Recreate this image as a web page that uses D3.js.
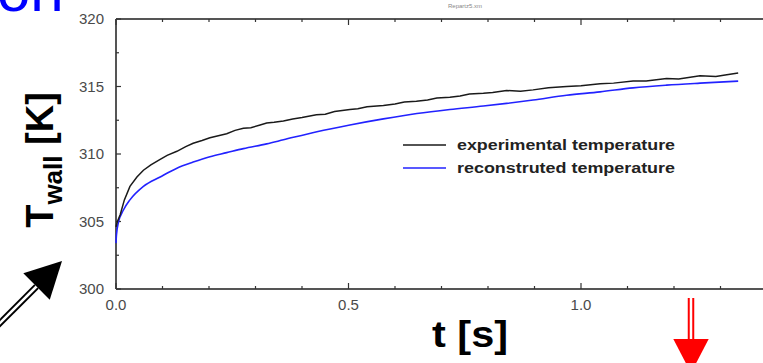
<!DOCTYPE html>
<html>
<head>
<meta charset="utf-8">
<script src="https://cdn.jsdelivr.net/npm/d3@7"></script>
<style>
  html, body { margin: 0; padding: 0; background: #fff; overflow: hidden; }
  svg { display: block; font-family: Arial, "Liberation Sans", sans-serif; }
</style>
</head>
<body>
<div id="chart"></div>
<script>
// measured values (time in s, wall temperature in K)
const expTime = [0, 0.003, 0.009, 0.018, 0.03, 0.045, 0.059, 0.075, 0.095, 0.11, 0.131, 0.15, 0.166, 0.185, 0.202, 0.22, 0.238, 0.256, 0.274, 0.29, 0.31, 0.324, 0.34, 0.36, 0.38, 0.40, 0.431, 0.45, 0.47, 0.503, 0.52, 0.54, 0.575, 0.60, 0.62, 0.646, 0.67, 0.69, 0.718, 0.74, 0.76, 0.79, 0.81, 0.84, 0.87, 0.897, 0.93, 0.969, 1.0, 1.041, 1.07, 1.112, 1.14, 1.184, 1.21, 1.256, 1.29, 1.31, 1.338];
const expTemp = [304.6, 305.0, 305.5, 306.6, 307.6, 308.3, 308.8, 309.2, 309.6, 309.9, 310.2, 310.55, 310.8, 311.0, 311.2, 311.35, 311.5, 311.75, 311.9, 311.95, 312.15, 312.3, 312.35, 312.45, 312.6, 312.7, 312.9, 312.95, 313.15, 313.3, 313.35, 313.5, 313.6, 313.7, 313.85, 313.9, 314.0, 314.15, 314.2, 314.3, 314.45, 314.5, 314.55, 314.7, 314.65, 314.75, 314.9, 315.0, 315.05, 315.2, 315.25, 315.4, 315.4, 315.6, 315.55, 315.8, 315.75, 315.85, 316.0];

const recTime = [0, 0.001, 0.005, 0.016, 0.03, 0.059, 0.095, 0.131, 0.166, 0.202, 0.238, 0.274, 0.324, 0.36, 0.432, 0.503, 0.575, 0.647, 0.718, 0.79, 0.84, 0.897, 0.969, 1.041, 1.112, 1.184, 1.256, 1.338];
const recTemp = [303.4, 304.0, 304.9, 305.85, 306.6, 307.6, 308.3, 308.95, 309.4, 309.8, 310.1, 310.4, 310.75, 311.05, 311.65, 312.15, 312.6, 313.0, 313.3, 313.55, 313.75, 314.0, 314.35, 314.6, 314.9, 315.1, 315.25, 315.4];

const seriesNames = ["experimental temperature", "reconstruted temperature"];
const seriesColors = ["#1a1a1a", "#2222ff"];

const xTicks = [0, 0.5, 1.0];
const xMinor = d3.range(0, 14).map(i => i / 10);
const yTicks = [300, 305, 310, 315, 320];
const yMinor = [302.5, 307.5, 312.5, 317.5];

const W = 763, H = 363;
const margin = { top: 19, left: 116, bottom: 74 };

const svg = d3.select("#chart").append("svg")
    .attr("width", W)
    .attr("height", H);

const x = d3.scaleLinear().domain([0, 1.4]).range([margin.left, margin.left + 651]);
const y = d3.scaleLinear().domain([300, 320]).range([H - margin.bottom, margin.top]);

const axisColor = "#555";

// frame lines
svg.append("line")
    .attr("x1", x(0)).attr("x2", W)
    .attr("y1", y(300)).attr("y2", y(300))
    .attr("stroke", axisColor).attr("stroke-width", 2);
svg.append("line")
    .attr("x1", x(0)).attr("x2", W)
    .attr("y1", y(320)).attr("y2", y(320))
    .attr("stroke", axisColor).attr("stroke-width", 2);
svg.append("line")
    .attr("x1", x(0)).attr("x2", x(0))
    .attr("y1", y(320)).attr("y2", y(300))
    .attr("stroke", axisColor).attr("stroke-width", 2);

// inward ticks, bottom and top
const tickG = svg.append("g").attr("stroke", "#333").attr("stroke-width", 1.2);
xMinor.forEach(t => {
    const len = xTicks.some(v => Math.abs(v - t) < 1e-6) ? 6 : 3;
    tickG.append("line").attr("x1", x(t)).attr("x2", x(t))
        .attr("y1", y(300)).attr("y2", y(300) - len);
    tickG.append("line").attr("x1", x(t)).attr("x2", x(t))
        .attr("y1", y(320)).attr("y2", y(320) + len);
});
yTicks.concat(yMinor).forEach(v => {
    const len = yTicks.includes(v) ? 5 : 3;
    tickG.append("line").attr("x1", x(0)).attr("x2", x(0) + len)
        .attr("y1", y(v)).attr("y2", y(v));
});

// tick labels
svg.append("g").selectAll("text")
    .data(yTicks)
    .join("text")
    .attr("x", x(0) - 12)
    .attr("y", d => y(d))
    .attr("dy", "0.36em")
    .attr("text-anchor", "end")
    .attr("fill", "#4a4a4a")
    .style("font-size", "15px")
    .text(d => d);

svg.append("g").selectAll("text")
    .data(xTicks)
    .join("text")
    .attr("x", d => x(d))
    .attr("y", y(300) + 21)
    .attr("text-anchor", "middle")
    .attr("fill", "#4a4a4a")
    .style("font-size", "15px")
    .text(d => d3.format(".1f")(d));

// curves
const line = d3.line()
    .x(d => x(d[0]))
    .y(d => y(d[1]));

svg.append("path")
    .datum(recTime.map((t, i) => [t, recTemp[i]]))
    .attr("fill", "none")
    .attr("stroke", seriesColors[1])
    .attr("stroke-width", 1.6)
    .attr("d", line.curve(d3.curveMonotoneX));

svg.append("path")
    .datum(expTime.map((t, i) => [t, expTemp[i]]))
    .attr("fill", "none")
    .attr("stroke", seriesColors[0])
    .attr("stroke-width", 1.5)
    .attr("d", line.curve(d3.curveLinear));

// legend
const legend = svg.append("g");
seriesNames.forEach((name, i) => {
    const ly = 145 + i * 23;
    legend.append("line")
        .attr("x1", 403).attr("x2", 446)
        .attr("y1", ly).attr("y2", ly)
        .attr("stroke", seriesColors[i]).attr("stroke-width", 1.5);
    legend.append("text")
        .attr("x", 457).attr("y", ly + 5)
        .attr("fill", "#222")
        .style("font-size", "14px")
        .style("font-weight", "bold")
        .attr("textLength", 218)
        .attr("lengthAdjust", "spacingAndGlyphs")
        .text(name);
});

// small file name on top
svg.append("text")
    .attr("x", 465).attr("y", 8)
    .attr("text-anchor", "middle")
    .attr("fill", "#888")
    .style("font-size", "6px")
    .text("Repartz5.xm");

// axis titles
svg.append("text")
    .attr("x", 432).attr("y", 347)
    .attr("fill", "#000")
    .style("font-size", "37px")
    .style("font-weight", "bold")
    .attr("textLength", 76)
    .attr("lengthAdjust", "spacingAndGlyphs")
    .text("t [s]");

const yl = svg.append("text")
    .attr("transform", "translate(53,160) rotate(-90)")
    .attr("text-anchor", "middle")
    .attr("fill", "#000")
    .style("font-size", "38px")
    .style("font-weight", "bold");
yl.append("tspan").text("T");
yl.append("tspan").attr("dy", 9).style("font-size", "26px").text("wall");
yl.append("tspan").attr("dy", -9).text(" [K]");

// cut-off blue heading
svg.append("text")
    .attr("x", -3).attr("y", 11)
    .attr("fill", "#0000ff")
    .style("font-size", "60px")
    .text("on");

// annotation arrows
function arrow(x0, y0, x1, y1, color, head) {
    const ang = Math.atan2(y1 - y0, x1 - x0);
    const bx = x1 - Math.cos(ang) * head, by = y1 - Math.sin(ang) * head;
    const g = svg.append("g");
    g.append("line").attr("x1", x0).attr("y1", y0).attr("x2", bx).attr("y2", by)
        .attr("stroke", color).attr("stroke-width", 6.5);
    g.append("line").attr("x1", x0).attr("y1", y0).attr("x2", bx + Math.cos(ang)).attr("y2", by + Math.sin(ang))
        .attr("stroke", "#fff").attr("stroke-width", 2.5);
    const px = -Math.sin(ang), py = Math.cos(ang), hw = head * 0.52;
    g.append("path")
        .attr("d", `M${x1},${y1}L${bx + px * hw},${by + py * hw}L${bx - px * hw},${by - py * hw}Z`)
        .attr("fill", color);
}
arrow(-10, 333, 62, 261, "#000", 36);
arrow(691, 298, 691, 373, "#ff0000", 34);
</script>
</body>
</html>
